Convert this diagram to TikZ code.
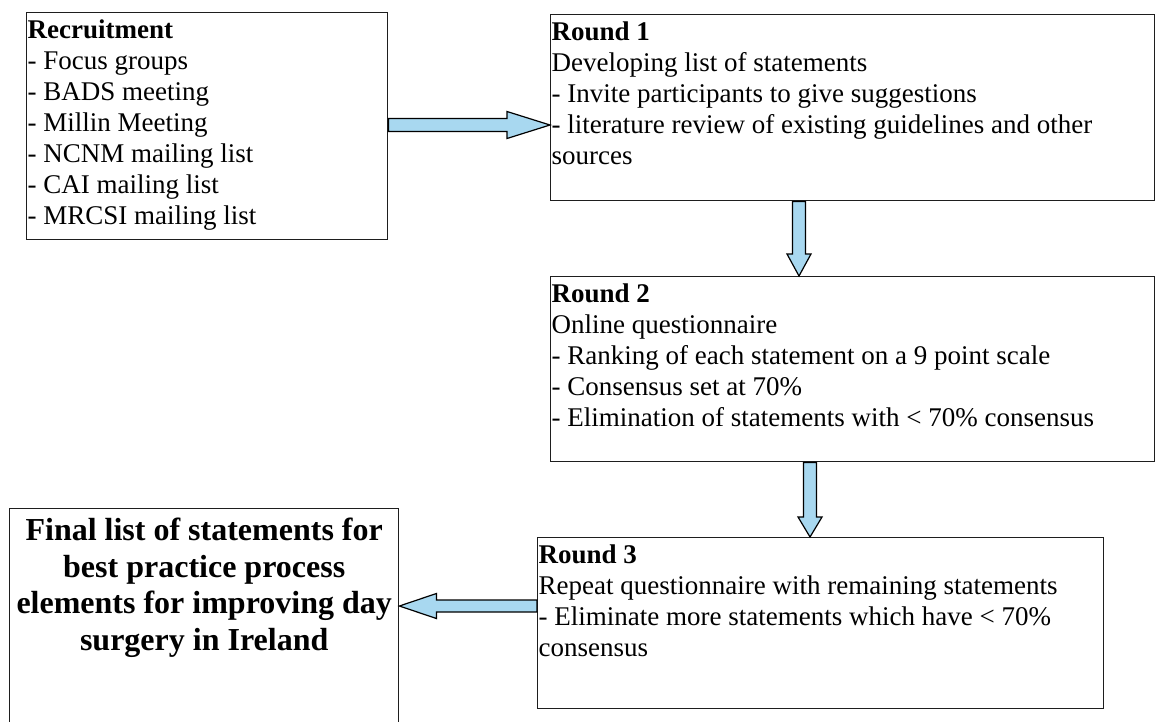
\documentclass[tikz,border=0pt]{standalone}
\usepackage{fontspec}
\setmainfont{Liberation Serif}
\usetikzlibrary{calc}
\definecolor{arrowfill}{HTML}{A8D8F0}
\definecolor{boxline}{HTML}{1E1E1E}
\newcommand\bodytext[3]{\parbox[c][#2][t]{#1}{\fontsize{27pt}{30.9pt}\selectfont\raggedright\leftskip=1pt\rule{0pt}{26pt}#3}}
\newcommand\finaltext[3]{\parbox[c][#2][t]{#1}{\centering\fontsize{32pt}{36.5pt}\selectfont\bfseries\rule{0pt}{32pt}#3}}
% horizontal block arrow: tail, tip, shaft half height, head half height, head length
\newcommand\harrow[5]{\filldraw[blockarrow] let \p1=#1, \p2=#2, \n1={sign(\x2-\x1)} in
  (\x1,{\y1+#3}) -- ({\x2-\n1*#5},{\y1+#3}) -- ({\x2-\n1*#5},{\y1+#4}) -- (\x2,\y1)
  -- ({\x2-\n1*#5},{\y1-#4}) -- ({\x2-\n1*#5},{\y1-#3}) -- (\x1,{\y1-#3}) -- cycle;}
% vertical block arrow
\newcommand\varrow[5]{\filldraw[blockarrow] let \p1=#1, \p2=#2, \n1={sign(\y2-\y1)} in
  ({\x1+#3},\y1) -- ({\x1+#3},{\y2-\n1*#5}) -- ({\x1+#4},{\y2-\n1*#5}) -- (\x1,\y2)
  -- ({\x1-#4},{\y2-\n1*#5}) -- ({\x1-#3},{\y2-\n1*#5}) -- ({\x1-#3},\y1) -- cycle;}
\begin{document}
\begin{tikzpicture}[x=1pt,y=-1pt,
  box/.style={draw=boxline, line width=1.4pt, inner sep=0pt, anchor=north west},
  blockarrow/.style={fill=arrowfill, draw=black, line width=1.2pt, line join=miter}]
\useasboundingbox (0,0) rectangle (1157,721);

\node[box] (rec) at (26,12) {\bodytext{361pt}{227pt}{\textbf{Recruitment}\\- Focus groups\\- BADS meeting\\- Millin Meeting\\- NCNM mailing list\\- CAI mailing list\\- MRCSI mailing list}};

\node[box] (r1) at (550,14) {\bodytext{604pt}{186pt}{\textbf{Round 1}\\Developing list of statements\\- Invite participants to give suggestions\\- literature review of existing guidelines and other\\sources}};

\node[box] (r2) at (550,276) {\bodytext{604pt}{185pt}{\textbf{Round 2}\\Online questionnaire\\- Ranking of each statement on a 9 point scale\\- Consensus set at 70\%\\- Elimination of statements with < 70\% consensus}};

\node[box] (r3) at (537,537) {\bodytext{566pt}{171pt}{\textbf{Round 3}\\Repeat questionnaire with remaining statements\\- Eliminate more statements which have < 70\%\\consensus}};

\node[box] (fin) at (9,508) {\finaltext{389pt}{216pt}{Final list of statements for\\best practice process\\elements for improving day\\surgery in Ireland}};

\coordinate (ax2) at (799,0);
\coordinate (ax3) at (810,0);
\coordinate (ay1) at (0,125);
\coordinate (ay4) at (0,606);

\harrow{(rec.east |- ay1)}{(r1.west |- ay1)}{6.5pt}{13.5pt}{43pt}
\varrow{(r1.south -| ax2)}{(r2.north -| ax2)}{6.5pt}{12pt}{22pt}
\varrow{(r2.south -| ax3)}{(r3.north -| ax3)}{6.5pt}{12pt}{20pt}
\harrow{(r3.west |- ay4)}{(fin.east |- ay4)}{6pt}{12.5pt}{37pt}
\end{tikzpicture}
\end{document}
